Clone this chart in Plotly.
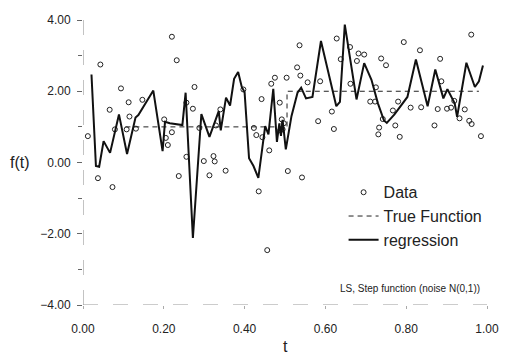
import plotly.graph_objects as go

# ---------------- data ----------------
data_t = [0.012, 0.043, 0.037, 0.066, 0.094, 0.113, 0.115, 0.147, 0.079, 0.108,
          0.131, 0.073, 0.220, 0.232, 0.276, 0.272, 0.256, 0.201, 0.220, 0.205,
          0.210, 0.288, 0.329, 0.256, 0.299, 0.323, 0.326, 0.237, 0.313, 0.353,
          0.340, 0.397, 0.423, 0.429, 0.444, 0.442, 0.461, 0.435, 0.456, 0.466,
          0.475, 0.487, 0.504, 0.492, 0.497, 0.494, 0.488, 0.507, 0.542, 0.530,
          0.536, 0.538, 0.556, 0.587, 0.582, 0.616, 0.621, 0.628, 0.638, 0.661,
          0.662, 0.682, 0.696, 0.678, 0.711, 0.723, 0.725, 0.738, 0.750, 0.794,
          0.767, 0.780, 0.742, 0.733, 0.731, 0.773, 0.784, 0.811, 0.834, 0.837,
          0.870, 0.878, 0.884, 0.887, 0.901, 0.919, 0.911, 0.932, 0.945, 0.956,
          0.962, 0.961, 0.985]
data_f = [0.74, 2.75, -0.44, 1.48, 2.08, 1.69, 1.29, 1.76, 0.93, 0.93,
          0.95, -0.69, 3.53, 2.87, 2.12, 1.51, 1.68, 1.21, 0.85, 0.69,
          0.49, 0.97, 1.04, 0.16, 0.04, 0.18, 0.03, -0.38, -0.36, -0.23,
          1.49, 2.05, 0.97, 0.77, 0.71, 1.78, 0.34, -0.81, -2.46, 2.21,
          2.38, 1.68, 2.38, 1.21, 1.10, 0.93, 0.90, -0.24, -0.42, 2.67,
          3.29, 2.44, 2.25, 2.28, 1.16, 1.43, 0.94, 3.48, 2.90, 3.24,
          2.21, 3.06, 3.03, 2.85, 1.71, 1.71, 2.11, 2.92, 2.73, 3.38,
          1.46, 1.71, 1.22, 0.98, 0.79, 1.04, 0.72, 1.54, 3.15, 1.55,
          1.04, 1.50, 2.91, 2.28, 1.51, 1.73, 1.54, 1.24, 1.49, 1.17,
          1.08, 3.59, 0.74]

true_t = [0.105, 0.505, 0.505, 0.98]
true_f = [1.0, 1.0, 2.0, 2.0]

reg_t = [0.021, 0.032, 0.040, 0.051, 0.067, 0.089, 0.109, 0.130, 0.137, 0.174,
         0.197, 0.203, 0.215, 0.246, 0.254, 0.272, 0.293, 0.313, 0.336, 0.341,
         0.354, 0.364, 0.374, 0.384, 0.393, 0.400, 0.411, 0.422, 0.434, 0.451,
         0.459, 0.471, 0.480, 0.486, 0.490, 0.494, 0.502, 0.516, 0.531, 0.540,
         0.552, 0.568, 0.589, 0.627, 0.636, 0.648, 0.677, 0.696, 0.714, 0.730,
         0.745, 0.752, 0.771, 0.803, 0.824, 0.853, 0.872, 0.892, 0.902, 0.920,
         0.926, 0.949, 0.970, 0.980, 0.990]
reg_f = [2.47, -0.10, -0.12, 0.60, 0.27, 1.35, 0.24, 1.26, 1.33, 2.02,
         0.32, 1.14, 1.10, 1.05, 1.96, -2.12, 1.36, 0.72, 1.44, 0.90,
         1.82, 1.60, 2.35, 2.54, 2.12, 1.97, 0.12, -0.10, -0.43, 1.02,
         0.79, 2.07, 0.58, 1.10, 0.75, 1.20, 0.37, 1.30, 1.96, 2.10,
         1.80, 1.84, 3.41, 1.58, 1.70, 3.87, 1.77, 2.79, 2.32, 1.66,
         1.18, 1.11, 1.35, 1.84, 2.89, 1.58, 2.61, 1.80, 2.06, 1.66,
         1.28, 2.80, 2.12, 2.28, 2.72]

y_ticks = [-4, -2, 0, 2, 4]
x_ticks = [0, 0.2, 0.4, 0.6, 0.8, 1.0]

FONT = "Liberation Sans, Arial, sans-serif"

fig = go.Figure()
fig.add_trace(go.Scatter(
    x=data_t, y=data_f, mode="markers", name="Data",
    marker=dict(symbol="circle-open", size=5, color="#222", line=dict(width=1, color="#222")),
))
fig.add_trace(go.Scatter(
    x=true_t, y=true_f, mode="lines", name="True Function",
    line=dict(color="#222", width=1, dash="5px,4px"),
))
fig.add_trace(go.Scatter(
    x=reg_t, y=reg_f, mode="lines", name="regression",
    line=dict(color="#111", width=2),
))

# axis lines (broken / grey look)
fig.add_shape(type="line", xref="x", yref="y", x0=0, x1=0, y0=-4, y1=4,
              line=dict(color="#888", width=1, dash="longdash"))
fig.add_shape(type="line", xref="x", yref="y", x0=0, x1=1, y0=-4, y1=-4,
              line=dict(color="#999", width=1, dash="longdash"))

fig.update_layout(
    width=511, height=355,
    margin=dict(l=83, r=21, t=20, b=50),
    paper_bgcolor="white", plot_bgcolor="white",
    font=dict(family=FONT, color="#222"),
    showlegend=True,
    legend=dict(
        x=0.645, y=0.455, xanchor="left", yanchor="top",
        font=dict(size=16, family=FONT, color="#222"),
        bgcolor="rgba(0,0,0,0)", tracegroupgap=0,
    ),
)
fig.update_xaxes(
    range=[0, 1], tickvals=x_ticks, tickformat=".2f",
    showgrid=False, zeroline=False, showline=False,
    ticks="outside", ticklen=3, tickcolor="#aaa",
    tickfont=dict(size=12, family=FONT, color="#222"),
    ticklabelstandoff=10,
)
fig.update_yaxes(
    range=[-4, 4], tickvals=y_ticks, tickformat=".2f",
    showgrid=False, zeroline=False, showline=False,
    ticks="outside", ticklen=5, tickcolor="#666",
    minor=dict(dtick=1, ticks="outside", ticklen=4, tickcolor="#666"),
    tickfont=dict(size=12, family=FONT, color="#222"),
    ticklabelstandoff=4,
)

fig.add_annotation(text="f(t)", xref="paper", yref="y", x=-0.155, y=0,
                   xanchor="center", yanchor="middle",
                   showarrow=False, font=dict(size=16, family=FONT, color="#222"))
fig.add_annotation(text="t", xref="x", yref="paper", x=0.5, y=-0.144,
                   xanchor="center", yanchor="middle",
                   showarrow=False, font=dict(size=16, family=FONT, color="#222"))
fig.add_annotation(text="LS, Step function (noise N(0,1))", xref="x", yref="y",
                   x=0.81, y=-3.55, showarrow=False,
                   font=dict(size=10, family=FONT, color="#222"))

fig.write_html("out.html")
